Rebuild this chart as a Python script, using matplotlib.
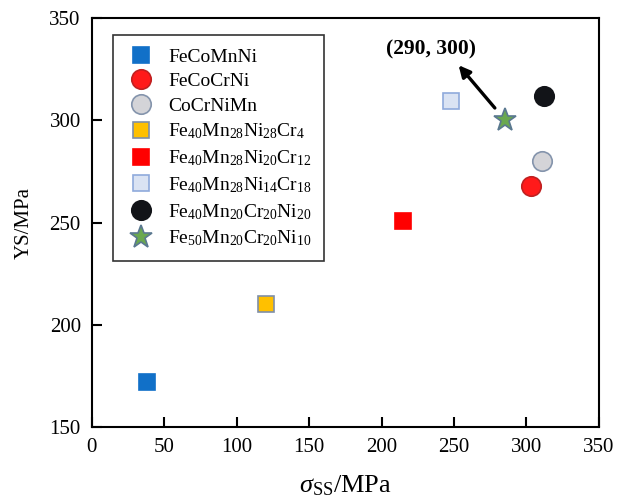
import numpy as np
import matplotlib
matplotlib.use("Agg")
import matplotlib.pyplot as plt

plt.rcParams['font.family'] = ['Liberation Serif', 'DejaVu Serif']
plt.rcParams['mathtext.fontset'] = 'custom'
plt.rcParams['mathtext.rm'] = 'Liberation Serif'
plt.rcParams['mathtext.it'] = 'Liberation Serif:italic'
plt.rcParams['mathtext.bf'] = 'Liberation Serif:bold'

# data
names = [
    'FeCoMnNi',
    'FeCoCrNi',
    'CoCrNiMn',
    r'$\mathregular{Fe_{40}Mn_{28}Ni_{28}Cr_{4}}$',
    r'$\mathregular{Fe_{40}Mn_{28}Ni_{20}Cr_{12}}$',
    r'$\mathregular{Fe_{40}Mn_{28}Ni_{14}Cr_{18}}$',
    r'$\mathregular{Fe_{40}Mn_{20}Cr_{20}Ni_{20}}$',
    r'$\mathregular{Fe_{50}Mn_{20}Cr_{20}Ni_{10}}$',
]
sigma_ss = [38, 303, 311, 120, 215, 248, 312, 285]
ys = [172, 268, 280, 210, 251, 309.5, 312, 300]

# marker styles
markers = ['s', 'o', 'o', 's', 's', 's', 'o', '*']
sizes = [12, 14, 14, 12, 12, 12, 14, 17]
faces = ['#1170C8', '#FF1A1A', '#D4D4D8', '#FFC000', '#FF0000', '#DAE3F3', '#121418', '#6AA84F']
edges = ['#1170C8', '#C02020', '#8494AC', '#7F8FA8', '#FF0000', '#8FAADC', '#121418', '#5A7890']

fig = plt.figure(figsize=(6.25, 5.03), dpi=100)
ax = fig.add_axes([0.147, 0.151, 0.811, 0.813])

for i in range(len(names)):
    ax.plot(sigma_ss[i], ys[i], linestyle='none', marker=markers[i], markersize=sizes[i],
            markerfacecolor=faces[i], markeredgecolor=edges[i], markeredgewidth=1.2,
            label=names[i])

ax.set_xlim(0, 350)
ax.set_ylim(150, 350)
ax.set_xticks(np.arange(0, 351, 50))
ax.set_yticks(np.arange(150, 351, 50))
ax.tick_params(direction='in', length=7, width=1.5, labelsize=15, pad=8,
               top=False, right=False)
for s in ax.spines.values():
    s.set_linewidth(1.5)

ax.set_xlabel(r'$\sigma_{\mathrm{SS}}$/MPa', fontsize=19, labelpad=12)
ax.set_ylabel('YS/MPa', fontsize=15, labelpad=11)

# annotation for the star point
ax.annotate('(290, 300)', xy=(252, 328), xytext=(234, 334.5), fontsize=15.5,
            fontweight='bold', ha='center', va='center')
ax.annotate('', xy=(252, 328), xytext=(279.5, 305),
            arrowprops=dict(arrowstyle='-|>', color='black', lw=2.4,
                            mutation_scale=17))

leg = ax.legend(loc='upper left', bbox_to_anchor=(0.041, 0.958), borderaxespad=0,
                fontsize=14, frameon=True, fancybox=False, edgecolor='black',
                labelspacing=0.36, handletextpad=0.6, borderpad=0.65,
                handlelength=1.6, numpoints=1)
leg.get_frame().set_linewidth(1.2)

fig.savefig('out.png', dpi=100)
